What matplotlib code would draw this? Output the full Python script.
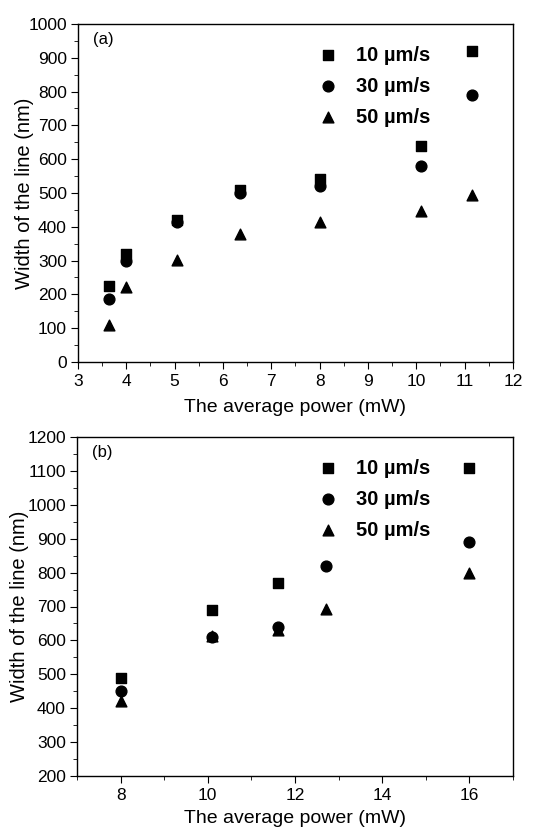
import matplotlib
matplotlib.use("Agg")
import matplotlib.pyplot as plt
from matplotlib.ticker import MultipleLocator

plt.rcParams["font.family"] = ["Liberation Sans", "DejaVu Sans"]

labels = ["10 µm/s", "30 µm/s", "50 µm/s"]
markers = ["s", "o", "^"]

# panel (a)
xa = [3.65, 4.0, 5.05, 6.35, 8.0, 10.1, 11.15]
a10 = [225, 320, 420, 510, 540, 640, 920]
a30 = [185, 300, 415, 500, 520, 580, 790]
a50 = [108, 222, 302, 378, 415, 448, 495]

# panel (b)
xb10 = [8.0, 10.1, 11.6, 16.0]
b10 = [490, 690, 770, 1110]
xb = [8.0, 10.1, 11.6, 12.7, 16.0]
b30 = [450, 610, 640, 820, 890]
b50 = [420, 612, 632, 692, 800]

fig = plt.figure(figsize=(5.48, 8.27), dpi=100)
ax1 = fig.add_axes([78 / 548, 1 - 362 / 827, 435 / 548, 338 / 827])
ax2 = fig.add_axes([77 / 548, 1 - 776 / 827, 436 / 548, 339 / 827])


def style(ax, ylab_x, xlab_pad):
    for s in ax.spines.values():
        s.set_linewidth(1.0)
    ax.tick_params(which="both", direction="out", labelsize=12.5, top=False, right=False)
    ax.tick_params(which="major", length=5)
    ax.tick_params(axis="x", which="major", pad=4)
    ax.tick_params(axis="y", which="major", pad=3)
    ax.tick_params(which="minor", length=3)
    ax.set_xlabel("The average power (mW)", fontsize=14, labelpad=xlab_pad)
    ax.set_ylabel("Width of the line (nm)", fontsize=14.5)
    ax.yaxis.set_label_coords(ylab_x, 0.5)


def legend(ax):
    ax.legend(loc="upper left", bbox_to_anchor=(0.487, 0.99), frameon=False,
              prop={"weight": "bold", "size": 14.5}, handletextpad=0.4,
              labelspacing=0.6, scatterpoints=1)


series_a = [(xa, a10), (xa, a30), (xa, a50)]
for (x, y), m, lab in zip(series_a, markers, labels):
    ax1.scatter(x, y, marker=m, s=60, color="black", label=lab, zorder=3)
ax1.set_xlim(3, 12)
ax1.set_ylim(0, 1000)
ax1.xaxis.set_major_locator(MultipleLocator(1))
ax1.xaxis.set_minor_locator(MultipleLocator(0.5))
ax1.yaxis.set_major_locator(MultipleLocator(100))
ax1.yaxis.set_minor_locator(MultipleLocator(50))
style(ax1, -0.101, 7)
ax1.text(0.035, 0.975, "(a)", transform=ax1.transAxes, fontsize=12, va="top")
legend(ax1)

series_b = [(xb10, b10), (xb, b30), (xb, b50)]
for (x, y), m, lab in zip(series_b, markers, labels):
    ax2.scatter(x, y, marker=m, s=60, color="black", label=lab, zorder=3)
ax2.set_xlim(7, 17)
ax2.set_ylim(200, 1200)
ax2.xaxis.set_major_locator(MultipleLocator(2))
ax2.xaxis.set_minor_locator(MultipleLocator(1))
ax2.yaxis.set_major_locator(MultipleLocator(100))
ax2.yaxis.set_minor_locator(MultipleLocator(50))
style(ax2, -0.11, 5)
ax2.text(0.035, 0.975, "(b)", transform=ax2.transAxes, fontsize=12, va="top")
legend(ax2)

fig.savefig("out.png", dpi=100)
